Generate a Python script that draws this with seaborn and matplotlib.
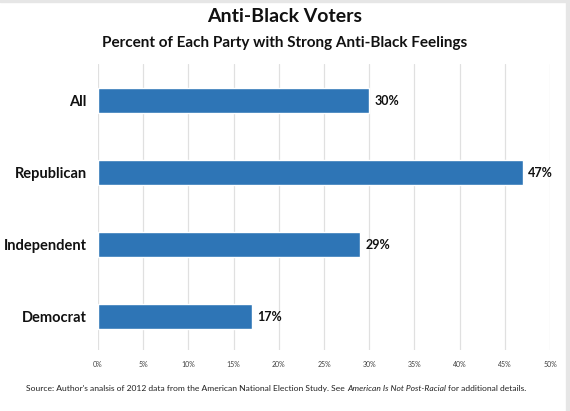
import matplotlib
matplotlib.use("Agg")
import matplotlib.pyplot as plt
import seaborn as sns
import pandas as pd
from matplotlib.patches import Rectangle

categories = ["All", "Republican", "Independent", "Democrat"]
values = [30, 47, 29, 17]
value_labels = ["30%", "47%", "29%", "17%"]
tick_values = [0, 5, 10, 15, 20, 25, 30, 35, 40, 45, 50]
tick_labels = ["0%", "5%", "10%", "15%", "20%", "25%", "30%", "35%", "40%", "45%", "50%"]

sns.set_theme(style="white")
plt.rcParams['font.family'] = ['Lato', 'DejaVu Sans']

df = pd.DataFrame({"party": categories, "pct": values})

fig = plt.figure(figsize=(5.7, 4.11), dpi=100)
ax = fig.add_axes([98/570, 1-350/411, (550-98)/570, (350-64)/411])

sns.barplot(data=df, y="party", x="pct", orient="h", color="#2E75B6",
            width=0.35, saturation=1, ax=ax, order=categories)

ax.set_xlim(0, 50)
ax.set_ylim(3.46, -0.51)
ax.set_xticks(tick_values)
ax.set_xticklabels(tick_labels, fontsize=5, color="#404040")
ax.tick_params(axis="x", length=0, pad=8)
ax.tick_params(axis="y", length=0, pad=8)
ax.set_yticklabels(categories, fontsize=10.5, fontweight="bold", color="#111111")
ax.set_xlabel("")
ax.set_ylabel("")
ax.grid(axis="x", color="#e0e0e0", linewidth=0.9)
ax.set_axisbelow(True)
for s in ax.spines.values():
    s.set_visible(False)

for i, (v, lab) in enumerate(zip(values, value_labels)):
    ax.text(v + 0.6, i, lab, va="center", ha="left", fontsize=9,
            fontweight="bold", color="#111111")

fig.text(0.5, 1-17/411, "Anti-Black Voters", ha="center", va="center",
         fontsize=14, fontweight="bold", color="#111111")
fig.text(0.5, 1-43/411, "Percent of Each Party with Strong Anti-Black Feelings",
         ha="center", va="center", fontsize=11, fontweight="bold", color="#111111")

y_src = 1-388/411
t1 = fig.text(26/570, y_src, "Source: Author's analsis of 2012 data from the American National Election Study. See ",
              ha="left", va="center", fontsize=6.1, color="#222222")
fig.canvas.draw()
r = fig.canvas.get_renderer()
bb = t1.get_window_extent(r)
t2 = fig.text(bb.x1/570, y_src, "American Is Not Post-Racial", ha="left", va="center",
              fontsize=6.1, style="italic", color="#222222")
bb2 = t2.get_window_extent(r)
fig.text(bb2.x1/570 + 2/570, y_src, "for additional details.", ha="left", va="center",
         fontsize=6.1, color="#222222")

fig.patches.append(Rectangle((0, 1-2/411), 1, 2/411, transform=fig.transFigure,
                             color="#e6e6e6", zorder=0))
fig.patches.append(Rectangle((566/570, 0), 4/570, 1, transform=fig.transFigure,
                             color="#e6e6e6", zorder=0))

fig.savefig("out.png", dpi=100)
